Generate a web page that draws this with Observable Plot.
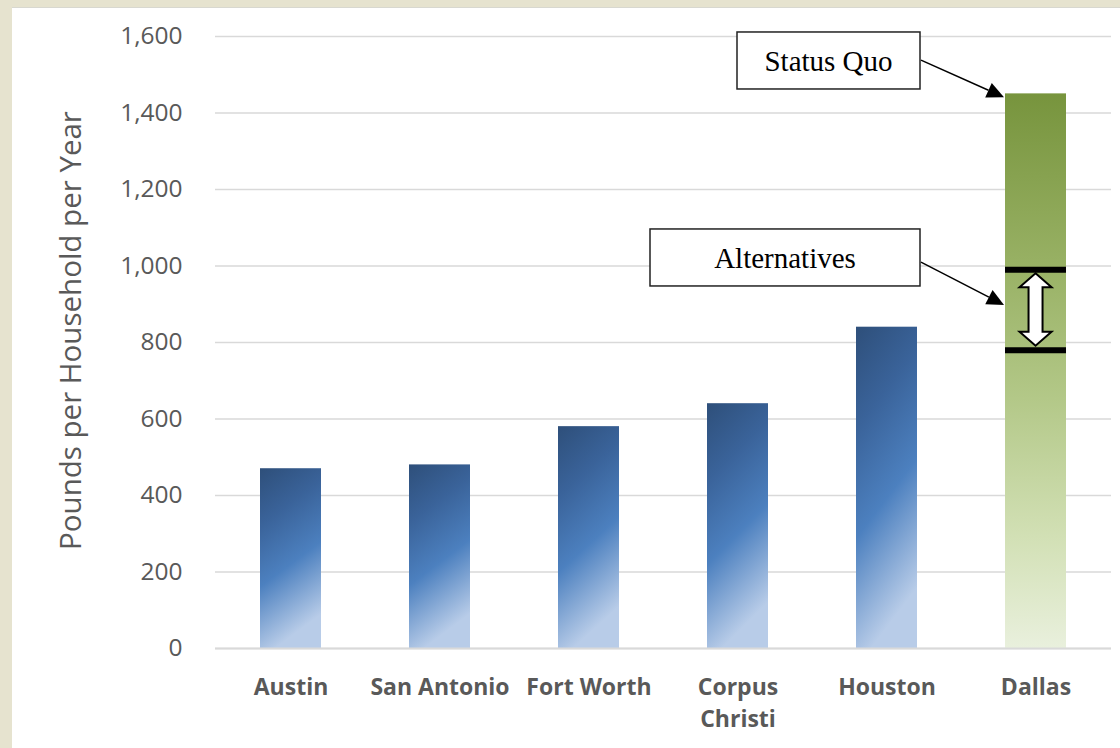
<!DOCTYPE html>
<html><head><meta charset="utf-8">
<script src="https://cdn.jsdelivr.net/npm/d3@7"></script>
<script src="https://cdn.jsdelivr.net/npm/@observablehq/plot@0.6"></script>
<style>
html,body{margin:0;padding:0;background:#e6e3cf;width:1120px;height:748px;overflow:hidden;}
#panel{position:absolute;left:12px;top:7px;width:1108px;height:741px;background:#fff;border-top:1px solid #d8d8d0;}
#chart{position:absolute;left:0;top:0;}
</style></head><body><div id="panel"></div><div id="chart"></div>
<script>
// ---- data ----
const cities = ["Austin", "San Antonio", "Fort Worth", "Corpus Christi", "Houston", "Dallas"];
const pounds = [470, 480, 580, 640, 840, 1450];
const yTicks = [0, 200, 400, 600, 800, 1000, 1200, 1400, 1600];
const yLabel = "Pounds per Household per Year";
const altRange = [780, 990];            // Dallas alternatives range
const annotationLabels = ["Status Quo", "Alternatives"];
const annotationBoxY = [1536, 1021];     // box centre (data units)
const annotationFromY = [1537, 1009];    // arrow start (data units)
const annotationToY = [1440, 897];       // arrow tip (data units)

const data = cities.map((c, i) => ({city: c, pounds: pounds[i]}));
const altData = altRange.map(v => ({city: "Dallas", y: v}));
const annData = annotationLabels.map((l, i) => ({label: l, boxY: annotationBoxY[i], fromY: annotationFromY[i], toY: annotationToY[i]}));

function annotationMark(index, scales) {
  const x = scales.x, y = scales.y;
  const step = x(cities[1]) - x(cities[0]);
  const bw = step * 0.41;
  const bx = x("Dallas");
  const g = d3.create("svg:g");
  const boxRight = bx - 85;
  const boxLefts = [bx - 268, bx - 355];
  annData.forEach((d, i) => {
    const cy = y(d.boxY);
    g.append("rect").attr("x", boxLefts[i]).attr("y", cy - 28.5).attr("width", boxRight - boxLefts[i]).attr("height", 57)
      .attr("fill", "#fff").attr("stroke", "#222").attr("stroke-width", 1.5);
    g.append("text").attr("x", (boxLefts[i] + boxRight) / 2).attr("y", cy).attr("dy", "0.35em")
      .attr("text-anchor", "middle").attr("font-family", "'Liberation Serif', 'Times New Roman', serif")
      .attr("font-size", 29).attr("fill", "#000").text(d.label);
    // arrow
    const x1 = boxRight + 1, y1 = y(d.fromY), x2 = bx - 1, y2 = y(d.toY);
    const ang = Math.atan2(y2 - y1, x2 - x1);
    const L = 17, W = 8;
    const bxp = x2 - L * Math.cos(ang), byp = y2 - L * Math.sin(ang);
    g.append("line").attr("x1", x1).attr("y1", y1).attr("x2", bxp).attr("y2", byp).attr("stroke", "#000").attr("stroke-width", 1.5);
    const px = -Math.sin(ang) * W, py = Math.cos(ang) * W;
    g.append("path").attr("d", `M${x2},${y2}L${bxp + px},${byp + py}L${bxp - px},${byp - py}Z`).attr("fill", "#000");
  });
  // double arrow
  const cx = bx + bw / 2;
  const t = y(altRange[1]) + 4, b = y(altRange[0]) - 4;
  const hh = 14, hw = 16, sw = 7;
  g.append("path").attr("d",
    `M${cx},${t}L${cx + hw},${t + hh}L${cx + sw},${t + hh}L${cx + sw},${b - hh}L${cx + hw},${b - hh}L${cx},${b}` +
    `L${cx - hw},${b - hh}L${cx - sw},${b - hh}L${cx - sw},${t + hh}L${cx - hw},${t + hh}Z`)
    .attr("fill", "#fff").attr("stroke", "#000").attr("stroke-width", 2).attr("stroke-linejoin", "miter");
  return g.node();
}

const chart = Plot.plot({
  width: 1120, height: 748,
  marginLeft: 215, marginRight: 9, marginTop: 36, marginBottom: 100,
  style: {background: "transparent", fontFamily: "'Open Sans', sans-serif", color: "#595959"},
  x: {domain: cities, paddingInner: 0.59, paddingOuter: 0.295, label: null},
  y: {domain: [0, 1600], label: null},
  marks: [
    Plot.gridY(yTicks, {stroke: "#d9d9d9", strokeOpacity: 1, strokeWidth: 1.5}),
    Plot.barY(data.filter(d => d.city !== "Dallas"), {x: "city", y: "pounds", fill: "url(#blueGrad)"}),
    Plot.barY(data.filter(d => d.city === "Dallas"), {x: "city", y: "pounds", fill: "url(#greenGrad)"}),
    Plot.ruleY([0], {stroke: "#d9d9d9", strokeWidth: 2}),
    Plot.tickY(altData, {x: "city", y: "y", stroke: "#000", strokeWidth: 6}),
    annotationMark,
    Plot.axisY(yTicks, {tickSize: 0, tickPadding: 33, fontSize: 24.5, tickFormat: d3.format(","), label: null, fill: "#595959"}),
    Plot.axisX({tickSize: 0, tickPadding: 24, fontSize: 23, fontWeight: "bold", lineHeight: 1.38, label: null, fill: "#595959",
      tickFormat: d => d === "Corpus Christi" ? "Corpus\nChristi" : d}),
    Plot.text([yLabel], {frameAnchor: "left", textAnchor: "middle", rotate: -90, dx: -144, dy: -12, fontSize: 29.5, fill: "#595959"})
  ]
});

const defs = `
<defs>
  <linearGradient id="blueGrad" x1="0" y1="0" x2="0.25" y2="1">
    <stop offset="0" stop-color="#2e4f7a"/>
    <stop offset="0.3" stop-color="#3a639a"/>
    <stop offset="0.62" stop-color="#4c80bf"/>
    <stop offset="1" stop-color="#b8cce8"/>
  </linearGradient>
  <linearGradient id="greenGrad" x1="0" y1="0" x2="0" y2="1">
    <stop offset="0" stop-color="#77943d"/>
    <stop offset="0.3" stop-color="#97b063"/>
    <stop offset="0.55" stop-color="#b3c888"/>
    <stop offset="0.8" stop-color="#d2e0b5"/>
    <stop offset="1" stop-color="#e9f0dd"/>
  </linearGradient>
</defs>`;
chart.insertAdjacentHTML("afterbegin", defs);
document.getElementById("chart").appendChild(chart);
</script>
</body></html>
